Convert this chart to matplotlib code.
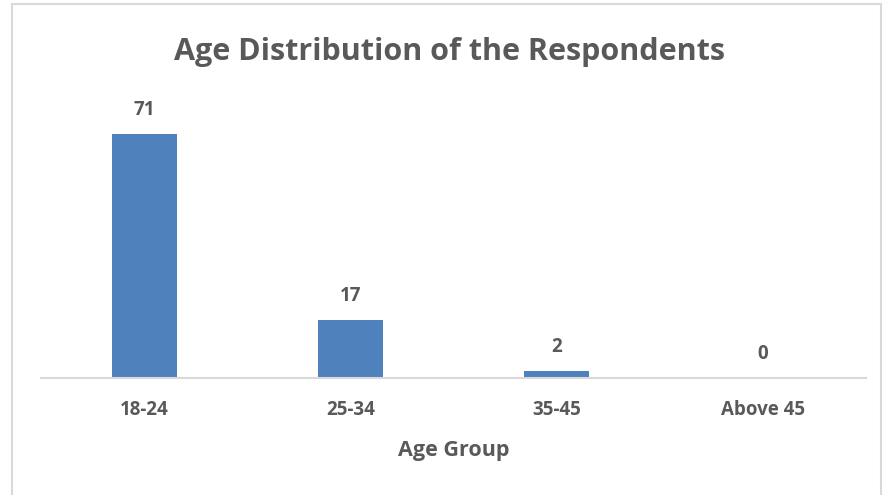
import numpy as np
import matplotlib as mpl
import matplotlib.pyplot as plt
from matplotlib.patches import Rectangle

plt.rcParams['font.family'] = ['Open Sans', 'DejaVu Sans']

age_groups = ['18-24', '25-34', '35-45', 'Above 45']
counts = [71, 17, 2, 0]

grey = '#595959'
blue = '#4F81BD'

fig = plt.figure(figsize=(8.84, 4.95), dpi=100)
ax = fig.add_axes([41/884, 117/495, 825/884, 275/495])

x = np.arange(len(age_groups))
bars = ax.bar(x, counts, width=0.315, color=blue)
ax.set_xlim(-0.5, len(age_groups) - 0.5)
ax.set_ylim(0, 80)

for xi, v in zip(x, counts):
    ax.annotate(str(v), (xi, v), xytext=(0, 10), textcoords='offset points',
                ha='center', va='bottom', fontsize=13.5, fontweight='bold', color=grey)

ax.set_xticks(x)
ax.set_xticklabels(age_groups, fontsize=13.5, fontweight='bold', color=grey)
ax.tick_params(axis='x', length=0, pad=16)
ax.set_yticks([])
for s in ['top', 'right', 'left']:
    ax.spines[s].set_visible(False)
ax.spines['bottom'].set_color('#D9D9D9')
ax.spines['bottom'].set_linewidth(1.5)

ax.set_xlabel('Age Group', fontsize=15.5, fontweight='bold', color=grey, labelpad=14)

fig.text(450/884, 1 - 52/495, 'Age Distribution of the Respondents', ha='center', va='center',
         fontsize=22, fontweight='bold', color=grey)

# chart border
fig.patches.append(Rectangle((12/884, -0.01), 869/884, 1 - 4/495 + 0.01, transform=fig.transFigure,
                             fill=False, edgecolor='#D9D9D9', linewidth=1.5))

fig.savefig('out.png', dpi=100)
